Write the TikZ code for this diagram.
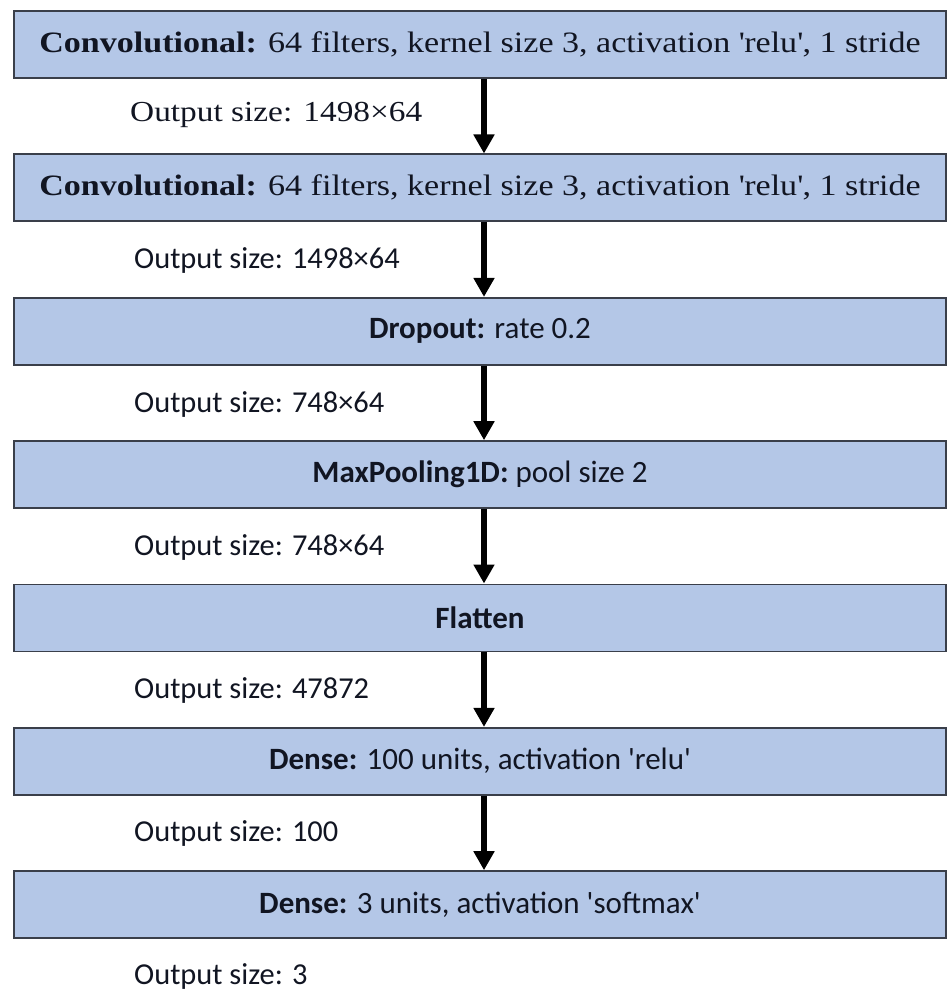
\documentclass[tikz,border=0pt]{standalone}
\usepackage{fontspec}
\setmainfont{Liberation Serif}
\newfontfamily\serifw[FakeStretch=1.15]{Liberation Serif}
\newfontfamily\calib{Carlito}
\usetikzlibrary{arrows.meta}
\definecolor{boxfill}{HTML}{B4C7E7}
\definecolor{boxline}{HTML}{3A3F4A}
\definecolor{txt}{HTML}{111522}
\begin{document}
\begin{tikzpicture}[x=1pt,y=-1pt,
  layer/.style={draw=boxline,line width=1.6pt,fill=boxfill,minimum width=932pt,minimum height=67pt,inner sep=0pt,text=txt},
  serifbox/.style={layer,font=\serifw\fontsize{29.6}{32}\selectfont},
  sansbox/.style={layer,font=\calib\fontsize{31}{34}\selectfont},
  outserif/.style={anchor=west,inner sep=0pt,text=txt,font=\serifw\fontsize{29}{32}\selectfont},
  outsans/.style={anchor=west,inner sep=0pt,text=txt,font=\calib\fontsize{30.4}{33}\selectfont},
  arr/.style={line width=6pt,-{Triangle[width=20pt,length=19pt]}}]
\useasboundingbox (0,0) rectangle (949,992);
\node[serifbox] (b1) at (480,44.5) {\textbf{Convolutional:} 64 filters, kernel size 3, activation \textquotesingle relu\textquotesingle, 1 stride};
\node[serifbox] (b2) at (480,187.8) {\textbf{Convolutional:} 64 filters, kernel size 3, activation \textquotesingle relu\textquotesingle, 1 stride};
\node[sansbox] (b3) at (480,331.2) {\textbf{Dropout:} rate 0.2};
\node[sansbox] (b4) at (480,474.5) {\textbf{MaxPooling1D:} pool size 2};
\node[sansbox] (b5) at (480,617.8) {\textbf{Flatten}};
\node[sansbox] (b6) at (480,761.2) {\textbf{Dense:} 100 units, activation 'relu'};
\node[sansbox] (b7) at (480,904.5) {\textbf{Dense:} 3 units, activation 'softmax'};
\node[outserif] (o1) at (130,115) {Output size: 1498×64};
\node[outsans] (o2) at (134,260) {Output size: 1498×64};
\node[outsans] (o3) at (134,404) {Output size: 748×64};
\node[outsans] (o4) at (134,547) {Output size: 748×64};
\node[outsans] (o5) at (134,690) {Output size: 47872};
\node[outsans] (o6) at (134,833) {Output size: 100};
\node[outsans] (o7) at (134,976) {Output size: 3};
\foreach \a/\b in {b1/b2,b2/b3,b3/b4,b4/b5,b5/b6,b6/b7}
  \draw[arr] ([xshift=4pt]\a.south) -- ([xshift=4pt]\b.north);
\end{tikzpicture}
\end{document}
